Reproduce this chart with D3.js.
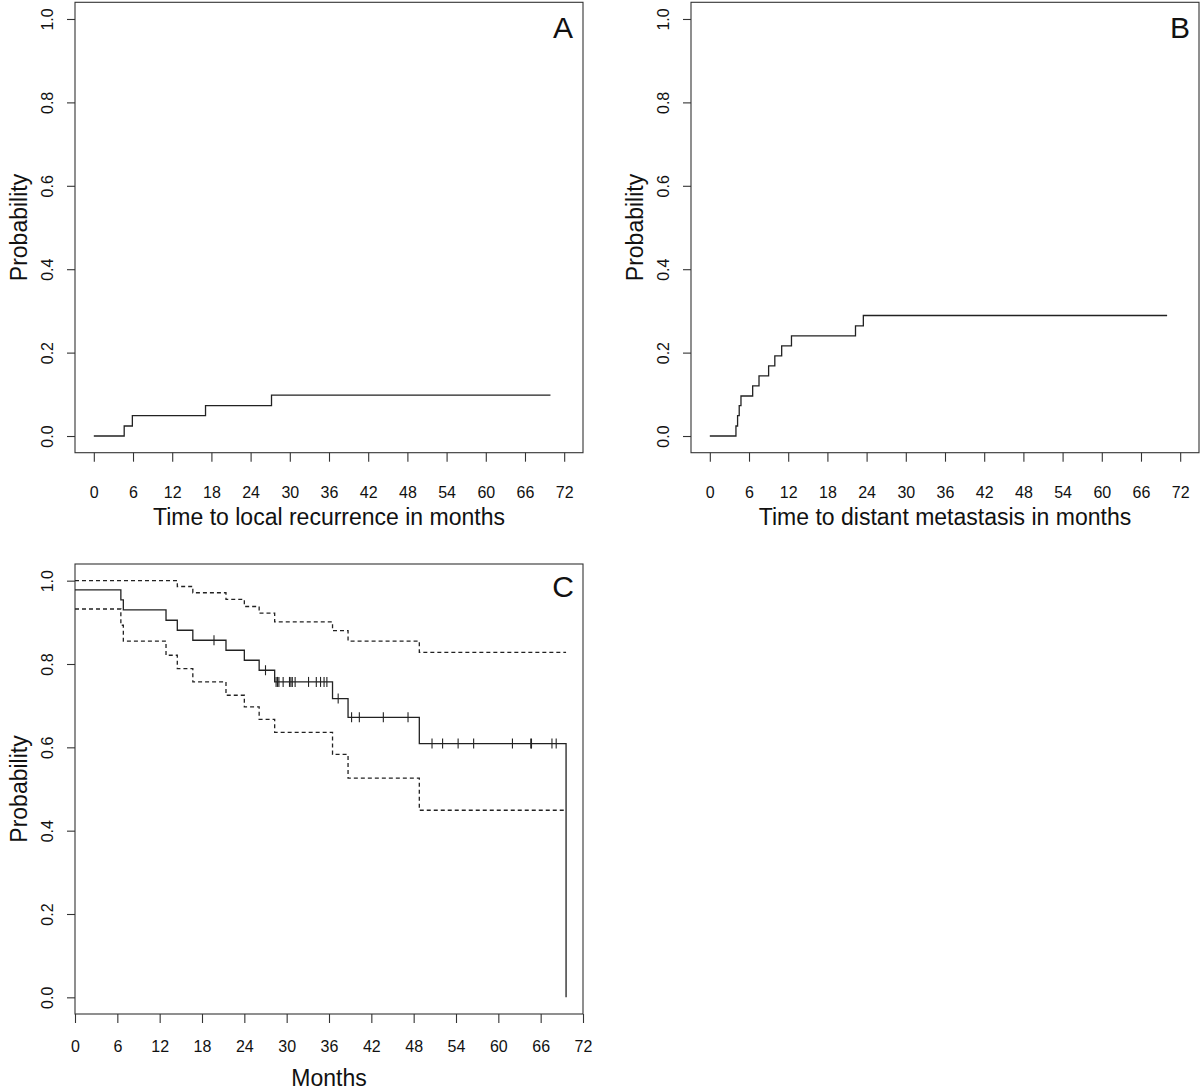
<!DOCTYPE html>
<html>
<head>
<meta charset="utf-8">
<script src="https://cdn.jsdelivr.net/npm/d3@7"></script>
<style>
  html, body { margin: 0; padding: 0; background: #fff; }
  svg { display: block; }
  text { font-family: "Liberation Sans", Arial, Helvetica, sans-serif; fill: #111; }
</style>
</head>
<body>
<script>
// ---------------- data ----------------
const monthTicks = [0, 6, 12, 18, 24, 30, 36, 42, 48, 54, 60, 66, 72];
const probTicks = [0, 0.2, 0.4, 0.6, 0.8, 1.0];

// Panel A: cumulative incidence of local recurrence
const localTimes = [0, 4.65, 5.9, 17.1, 27.2, 69.9];
const localProb  = [0, 0.024, 0.049, 0.073, 0.098, 0.098];

// Panel B: cumulative incidence of distant metastasis
const distantTimes = [0, 4.0, 4.25, 4.5, 4.77, 6.56, 7.53, 9.0, 9.95, 11.0, 12.5, 22.3, 23.5, 70.0];
const distantProb  = [0, 0.024, 0.049, 0.073, 0.096, 0.12, 0.144, 0.168, 0.192, 0.216, 0.24, 0.264, 0.289, 0.289];

// Panel C: survival (Kaplan-Meier) with 95% CI
const survTimes = [0, 6.5, 6.85, 12.9, 14.5, 16.7, 21.4, 24.0, 26.1, 28.3, 36.5, 38.7, 48.8, 69.6];
const survProb  = [0.978, 0.954, 0.930, 0.905, 0.881, 0.857, 0.833, 0.809, 0.785, 0.757, 0.717, 0.672, 0.609, 0];
const upperTimes = [0, 14.5, 16.7, 21.4, 24.0, 26.1, 28.3, 36.5, 38.7, 48.8, 69.6];
const upperProb  = [1.0, 0.986, 0.971, 0.955, 0.938, 0.922, 0.901, 0.880, 0.855, 0.828, 0.828];
const lowerTimes = [0, 6.5, 6.85, 12.9, 14.5, 16.7, 21.4, 24.0, 26.1, 28.3, 36.5, 38.7, 48.8, 69.6];
const lowerProb  = [0.932, 0.893, 0.855, 0.821, 0.789, 0.757, 0.725, 0.697, 0.667, 0.636, 0.583, 0.526, 0.449, 0.449];
const censorTimes = [19.7, 27.0, 28.5, 28.7, 28.9, 29.5, 30.4, 30.6, 30.8, 31.2, 33.1, 34.2, 34.8, 35.3, 35.7,
                     37.3, 39.2, 40.3, 43.7, 47.2, 50.6, 52.1, 54.3, 56.5, 62.0, 64.6, 64.7, 67.6, 68.2];

// ---------------- drawing ----------------
const W = 1200, H = 1092;
const svg = d3.select("body").append("svg").attr("width", W).attr("height", H);

const FONT_TICK = 16, FONT_TITLE = 23, FONT_LETTER = 30;
const INK = "#222";

function panel(cfg) {
  const x = d3.scaleLinear().domain(cfg.xdom).range([cfg.x0, cfg.x1]);
  const y = d3.scaleLinear().domain([-0.04, 1.04]).range([cfg.y1, cfg.y0]);
  const g = svg.append("g");

  // box
  g.append("rect")
    .attr("x", cfg.x0).attr("y", cfg.y0)
    .attr("width", cfg.x1 - cfg.x0).attr("height", cfg.y1 - cfg.y0)
    .attr("fill", "none").attr("stroke", "#333").attr("stroke-width", 1.1);

  // x axis
  const xa = g.append("g").attr("transform", `translate(0,${cfg.y1})`)
    .call(d3.axisBottom(x).tickValues(monthTicks).tickSize(9).tickPadding(cfg.xPad).tickFormat(d3.format("d")));
  xa.select(".domain").remove();
  xa.selectAll(".tick line").attr("stroke", "#333").attr("stroke-width", 1.1);
  xa.selectAll(".tick text").style("font-size", FONT_TICK + "px").attr("fill", "#111")
    .style("font-family", '"Liberation Sans", Arial, sans-serif');

  // y axis
  const ya = g.append("g").attr("transform", `translate(${cfg.x0},0)`)
    .call(d3.axisLeft(y).tickValues(probTicks).tickSize(8).tickFormat(d3.format(".1f")));
  ya.select(".domain").remove();
  ya.selectAll(".tick line").attr("stroke", "#333").attr("stroke-width", 1.1);
  ya.selectAll(".tick text")
    .attr("x", null).attr("dy", null)
    .attr("text-anchor", "middle")
    .attr("transform", "translate(-22,0) rotate(-90)")
    .style("font-size", FONT_TICK + "px").attr("fill", "#111")
    .style("font-family", '"Liberation Sans", Arial, sans-serif');

  // y title
  g.append("text")
    .attr("transform", `translate(${cfg.x0 - 48},${(cfg.y0 + cfg.y1) / 2}) rotate(-90)`)
    .attr("text-anchor", "middle").style("font-size", FONT_TITLE + "px")
    .text("Probability");

  // x title
  g.append("text")
    .attr("x", (cfg.x0 + cfg.x1) / 2).attr("y", cfg.xTitleY)
    .attr("text-anchor", "middle").style("font-size", FONT_TITLE + "px")
    .text(cfg.xTitle);

  // panel letter
  g.append("text")
    .attr("x", cfg.letterX).attr("y", cfg.y0 + cfg.letterDy)
    .attr("text-anchor", "middle").style("font-size", FONT_LETTER + "px")
    .text(cfg.letter);

  return { g, x, y };
}

function stepLine(p, times, probs, dash) {
  const pts = times.map((t, i) => [t, probs[i]]);
  const line = d3.line().x(d => p.x(d[0])).y(d => p.y(d[1])).curve(d3.curveStepAfter);
  p.g.append("path").attr("d", line(pts))
    .attr("fill", "none").attr("stroke", INK).attr("stroke-width", 1.3)
    .attr("stroke-dasharray", dash || null);
}

// Panel A
const pA = panel({ x0: 75, x1: 583, y0: 2.3, y1: 452.7, xdom: [-2.88, 74.88], xPad: 25,
  xTitle: "Time to local recurrence in months", xTitleY: 525, letter: "A", letterX: 563, letterDy: 36 });
stepLine(pA, localTimes, localProb);

// Panel B
const pB = panel({ x0: 691, x1: 1199, y0: 2.3, y1: 452.7, xdom: [-2.88, 74.88], xPad: 25,
  xTitle: "Time to distant metastasis in months", xTitleY: 525, letter: "B", letterX: 1180, letterDy: 36 });
stepLine(pB, distantTimes, distantProb);

// Panel C
const pC = panel({ x0: 75, x1: 583, y0: 564, y1: 1014, xdom: [0, 72], xPad: 18,
  xTitle: "Months", xTitleY: 1086, letter: "C", letterX: 563, letterDy: 33 });
stepLine(pC, upperTimes, upperProb, "4,3");
stepLine(pC, lowerTimes, lowerProb, "4,3");
stepLine(pC, survTimes, survProb);

// censor marks
function survAt(t) {
  let v = survProb[0];
  for (let i = 0; i < survTimes.length; i++) if (survTimes[i] <= t) v = survProb[i];
  return v;
}
pC.g.selectAll("line.censor").data(censorTimes).enter().append("line")
  .attr("class", "censor")
  .attr("x1", d => pC.x(d)).attr("x2", d => pC.x(d))
  .attr("y1", d => pC.y(survAt(d)) - 5).attr("y2", d => pC.y(survAt(d)) + 5)
  .attr("stroke", INK).attr("stroke-width", 1.1);
</script>
</body>
</html>
